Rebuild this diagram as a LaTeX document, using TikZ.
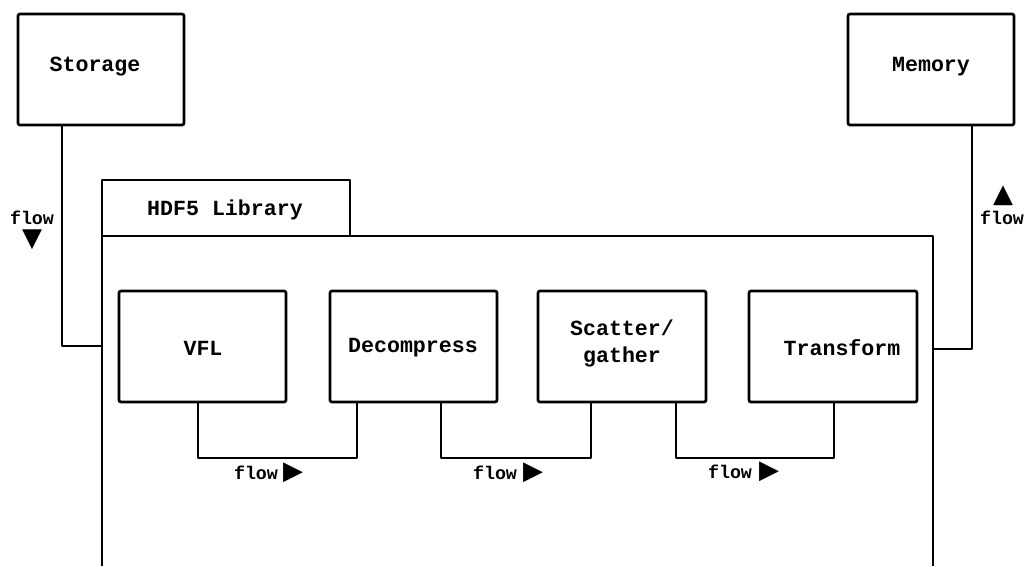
\documentclass[tikz,border=0pt]{standalone}
\usepackage{fontspec}
\setmainfont{Liberation Mono}[BoldFont={Liberation Mono Bold}]
\newfontfamily\symfont{DejaVu Sans}
\begin{document}
\begin{tikzpicture}[x=1pt,y=-1pt,
  box/.style={draw,line width=2.7pt,rounded corners=2pt},
  wire/.style={line width=2.7pt,line join=round},
  lbl/.style={font=\fontsize{21.6}{27}\selectfont\bfseries,align=center,inner sep=0pt},
  flowlbl/.style={font=\fontsize{18.3}{18}\selectfont\bfseries,align=center,inner sep=0pt},
  tri/.style={font=\symfont\fontsize{26}{26}\selectfont,inner sep=0pt}
]
\useasboundingbox[fill=white] (0,0) rectangle (1025,566);
% outer boxes
\draw[box] (18,14) rectangle (184,125);
\node[lbl] (storage) at (95,67) {Storage};
\coordinate (storageB) at (62,125);
\draw[box] (848,14) rectangle (1014,125);
\node[lbl] (memory) at (931,67) {Memory};
\coordinate (memoryB) at (972,125);
% HDF5 library tab and body
\draw[wire] (102,236) -- (102,180) -- (350,180) -- (350,236);
\node[lbl] (hdf) at (225,210) {HDF5 Library};
\draw[wire] (102,566) -- (102,236) -- (933,236) -- (933,566);
\coordinate (libL) at (102,346);
\coordinate (libR) at (933,349);
% inner boxes
\draw[box] (119,291) rectangle (286,402);
\node[lbl] (vfl) at (203,348) {VFL};
\draw[box] (330,291) rectangle (497,402);
\node[lbl] (dec) at (413,348) {Decompress};
\draw[box] (538,291) rectangle (706,402);
\node[lbl] (sg) at (622,343) {Scatter/\\gather};
\draw[box] (749,291) rectangle (917,402);
\node[lbl] (tr) at (842,348) {Transform};
% external connectors
\draw[wire] (storageB) |- (libL);
\draw[wire] (memoryB) |- (libR);
% internal connectors
\draw[wire] (198,402) -- (198,458) -- (357,458) -- (357,402);
\draw[wire] (441,402) -- (441,458) -- (591,458) -- (591,402);
\draw[wire] (676,402) -- (676,458) -- (834,458) -- (834,402);
% flow labels
\node[flowlbl] (f1) at (256,473) {flow};
\node[tri] (t1) at (293,473) {▶};
\node[flowlbl] (f2) at (495,473) {flow};
\node[tri] (t2) at (533,473) {▶};
\node[flowlbl] (f3) at (730,472) {flow};
\node[tri] (t3) at (769,472) {▶};
\node[flowlbl] (f4) at (32,218) {flow};
\node[tri] (t4) at (32,240) {▼};
\node[flowlbl] (f5) at (1002,218) {flow};
\node[tri] (t5) at (1003,196) {▲};
\end{tikzpicture}
\end{document}
